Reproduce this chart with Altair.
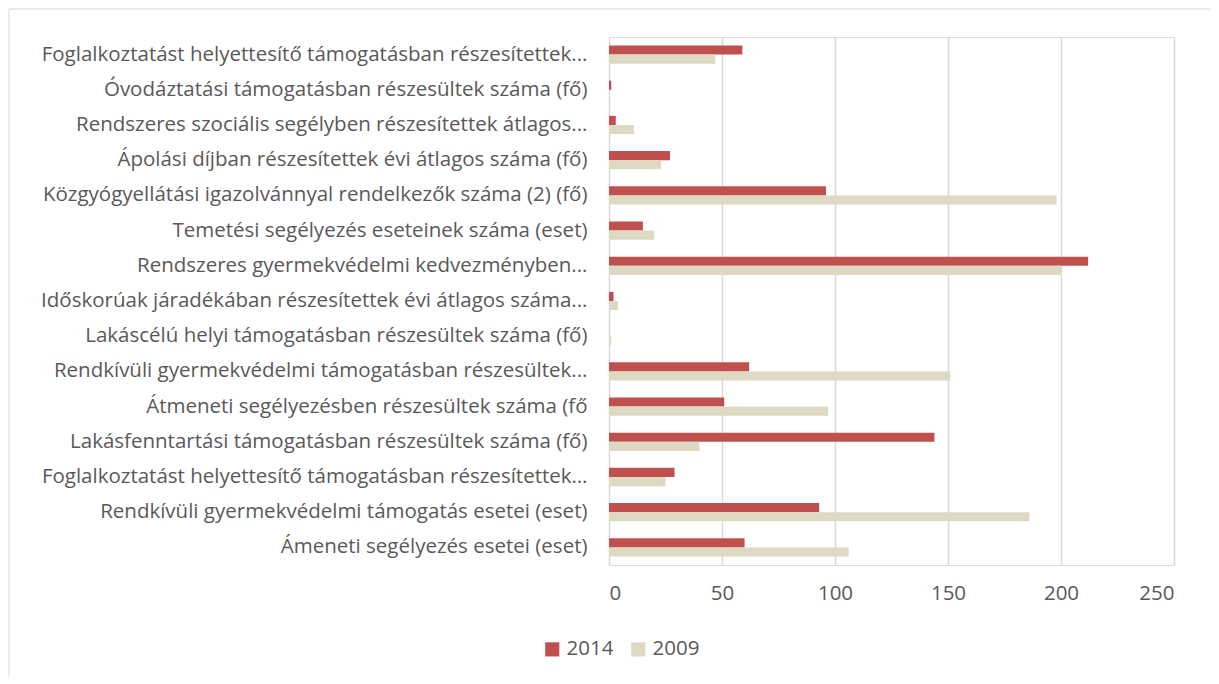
import altair as alt
import pandas as pd

categories = [
    "Foglalkoztatást helyettesítő támogatásban részesítettek...",
    "Óvodáztatási támogatásban részesültek száma (fő)",
    "Rendszeres szociális segélyben részesítettek átlagos...",
    "Ápolási díjban részesítettek évi átlagos száma (fő)",
    "Közgyógyellátási igazolvánnyal rendelkezők száma (2) (fő)",
    "Temetési segélyezés eseteinek száma (eset)",
    "Rendszeres gyermekvédelmi kedvezményben...",
    "Időskorúak járadékában részesítettek évi átlagos száma...",
    "Lakáscélú helyi támogatásban részesültek száma (fő)",
    "Rendkívüli gyermekvédelmi támogatásban részesültek...",
    "Átmeneti segélyezésben részesültek száma (fő",
    "Lakásfenntartási támogatásban részesültek száma (fő)",
    "Foglalkoztatást helyettesítő támogatásban részesítettek… ",
    "Rendkívüli gyermekvédelmi támogatás esetei (eset)",
    "Ámeneti segélyezés esetei (eset)",
]
values_2014 = [59, 1, 3, 27, 96, 15, 212, 2, 0, 62, 51, 144, 29, 93, 60]
values_2009 = [47, 0, 11, 23, 198, 20, 200, 4, 1, 151, 97, 40, 25, 186, 106]
series = ["2014", "2009"]
colors = ["#C0504D", "#DDD9C3"]
x_ticks = [0, 50, 100, 150, 200, 250]

rows = []
for c, a, b in zip(categories, values_2014, values_2009):
    rows.append({"cat": c, "series": "2014", "value": a})
    rows.append({"cat": c, "series": "2009", "value": b})
df = pd.DataFrame(rows)

FONT = "Open Sans"
GRAY = "#595959"
FS = 20.5

bars = alt.Chart(df).mark_bar().encode(
    y=alt.Y("cat:N", sort=categories, title=None,
            scale=alt.Scale(paddingInner=0.48, paddingOuter=0.24),
            axis=alt.Axis(labelFont=FONT, labelFontSize=FS, labelColor=GRAY,
                          labelLimit=700, labelPadding=22, ticks=False,
                          domain=False)),
    yOffset=alt.YOffset("series:N", sort=series),
    x=alt.X("value:Q", title=None,
            scale=alt.Scale(domain=[0, 250], nice=False),
            axis=alt.Axis(values=x_ticks, labelFont=FONT, labelFontSize=FS,
                          labelColor=GRAY, labelPadding=18, ticks=False,
                          domain=False, gridColor="#D9D9D9", gridWidth=1.5)),
    color=alt.Color("series:N", sort=series,
                    scale=alt.Scale(domain=series, range=colors),
                    legend=alt.Legend(title=None, orient="none", direction="horizontal",
                                      legendX=-67, legendY=602,
                                      labelFont=FONT, labelFontSize=FS, labelColor=GRAY,
                                      symbolType="square", symbolSize=200,
                                      symbolStrokeWidth=0, columnPadding=14,
                                      labelOffset=4)),
)

frame_df = pd.DataFrame({"k": [0]})
left_border = alt.Chart(frame_df).mark_rule(color="#D9D9D9", strokeWidth=1).encode(
    x=alt.value(-600), y=alt.value(-28), y2=alt.value(640))
top_border = alt.Chart(frame_df).mark_rule(color="#D9D9D9", strokeWidth=1).encode(
    x=alt.value(-600), x2=alt.value(610), y=alt.value(-28))

chart = alt.layer(bars, left_border, top_border).properties(
    width=565, height=528,
    autosize=alt.AutoSizeParams(type="none"),
    padding={"left": 601, "top": 29, "right": 37, "bottom": 111},
).configure_view(stroke=None).configure(background="white")

chart.save("out.html", embed_options={"renderer": "svg", "actions": False})
